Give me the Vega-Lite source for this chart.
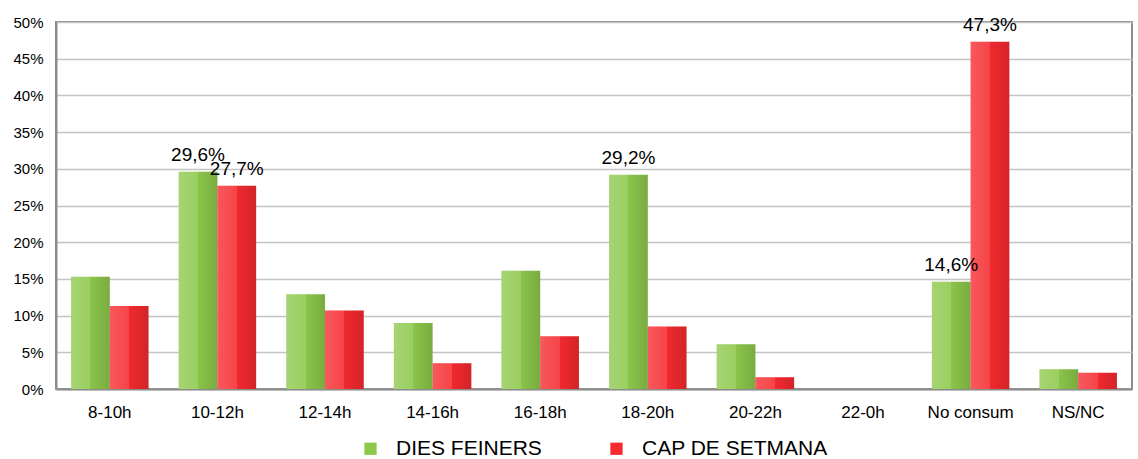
{
  "$schema": "https://vega.github.io/schema/vega-lite/v6.json",
  "width": 1076,
  "height": 367,
  "autosize": {"type": "none"},
  "padding": {"left": 56, "top": 22, "right": 6, "bottom": 70},
  "background": "white",
  "config": {
    "font": "Liberation Sans",
    "view": {"stroke": "#8c8c8c", "strokeWidth": 2},
    "legend": {"layout": {"bottom": {"anchor": "middle"}}}
  },
  "data": {
    "values": [
      {"franja": "8-10h", "serie": "DIES FEINERS", "valor": 15.3},
      {"franja": "8-10h", "serie": "CAP DE SETMANA", "valor": 11.3},
      {"franja": "10-12h", "serie": "DIES FEINERS", "valor": 29.6, "etiqueta": "29,6%"},
      {"franja": "10-12h", "serie": "CAP DE SETMANA", "valor": 27.7, "etiqueta": "27,7%"},
      {"franja": "12-14h", "serie": "DIES FEINERS", "valor": 12.9},
      {"franja": "12-14h", "serie": "CAP DE SETMANA", "valor": 10.7},
      {"franja": "14-16h", "serie": "DIES FEINERS", "valor": 9.0},
      {"franja": "14-16h", "serie": "CAP DE SETMANA", "valor": 3.5},
      {"franja": "16-18h", "serie": "DIES FEINERS", "valor": 16.1},
      {"franja": "16-18h", "serie": "CAP DE SETMANA", "valor": 7.2},
      {"franja": "18-20h", "serie": "DIES FEINERS", "valor": 29.2, "etiqueta": "29,2%"},
      {"franja": "18-20h", "serie": "CAP DE SETMANA", "valor": 8.5},
      {"franja": "20-22h", "serie": "DIES FEINERS", "valor": 6.1},
      {"franja": "20-22h", "serie": "CAP DE SETMANA", "valor": 1.6},
      {"franja": "22-0h", "serie": "DIES FEINERS", "valor": 0},
      {"franja": "22-0h", "serie": "CAP DE SETMANA", "valor": 0},
      {"franja": "No consum", "serie": "DIES FEINERS", "valor": 14.6, "etiqueta": "14,6%"},
      {"franja": "No consum", "serie": "CAP DE SETMANA", "valor": 47.3, "etiqueta": "47,3%"},
      {"franja": "NS/NC", "serie": "DIES FEINERS", "valor": 2.7},
      {"franja": "NS/NC", "serie": "CAP DE SETMANA", "valor": 2.2}
    ]
  },
  "encoding": {
    "x": {
      "field": "franja", "type": "nominal", "sort": null,
      "scale": {"paddingInner": 0.28, "paddingOuter": 0.14},
      "axis": {"title": null, "labelAngle": 0, "labelFontSize": 17, "labelColor": "#000", "ticks": false, "labelPadding": 15, "domainColor": "#8c8c8c", "domainWidth": 2}
    },
    "xOffset": {"field": "serie", "type": "nominal", "sort": ["DIES FEINERS", "CAP DE SETMANA"], "scale": {"paddingInner": 0, "paddingOuter": 0}},
    "y": {
      "field": "valor", "type": "quantitative",
      "scale": {"domain": [0, 50], "nice": false},
      "axis": {"title": null, "values": [0,5,10,15,20,25,30,35,40,45,50], "labelExpr": "datum.value + '%'", "labelFontSize": 15, "labelColor": "#000", "ticks": false, "labelPadding": 13, "gridColor": "#c4c4c4", "gridWidth": 1.5, "domainColor": "#8c8c8c", "domainWidth": 2}
    }
  },
  "layer": [
    {
      "mark": {"type": "bar", "stroke": null},
      "encoding": {
        "color": {
          "field": "serie", "type": "nominal", "sort": ["DIES FEINERS", "CAP DE SETMANA"],
          "scale": {"domain": ["DIES FEINERS", "CAP DE SETMANA"], "range": ["#8dc84b", "#f52a2f"]},
          "legend": {"title": null, "orient": "bottom", "direction": "horizontal", "symbolType": "square", "symbolSize": 150, "symbolStrokeWidth": 0, "labelFontSize": 21, "labelColor": "#000", "labelLimit": 400, "labelOffset": 15, "columnPadding": 64, "offset": 18}
        }
      }
    },
    {
      "mark": {
        "type": "bar",
        "fill": {"x1": 0, "y1": 0, "x2": 1, "y2": 0, "gradient": "linear", "stops": [
          {"offset": 0, "color": "rgba(255,255,255,0.22)"},
          {"offset": 0.5, "color": "rgba(255,255,255,0.12)"},
          {"offset": 0.5, "color": "rgba(0,0,0,0.02)"},
          {"offset": 1, "color": "rgba(0,0,0,0.14)"}
        ]}
      },
      "encoding": {}
    },
    {
      "transform": [{"filter": "datum.etiqueta != null"}],
      "mark": {"type": "text", "baseline": "bottom", "dy": -7, "fontSize": 19, "color": "#000"},
      "encoding": {"text": {"field": "etiqueta"}}
    }
  ]
}
